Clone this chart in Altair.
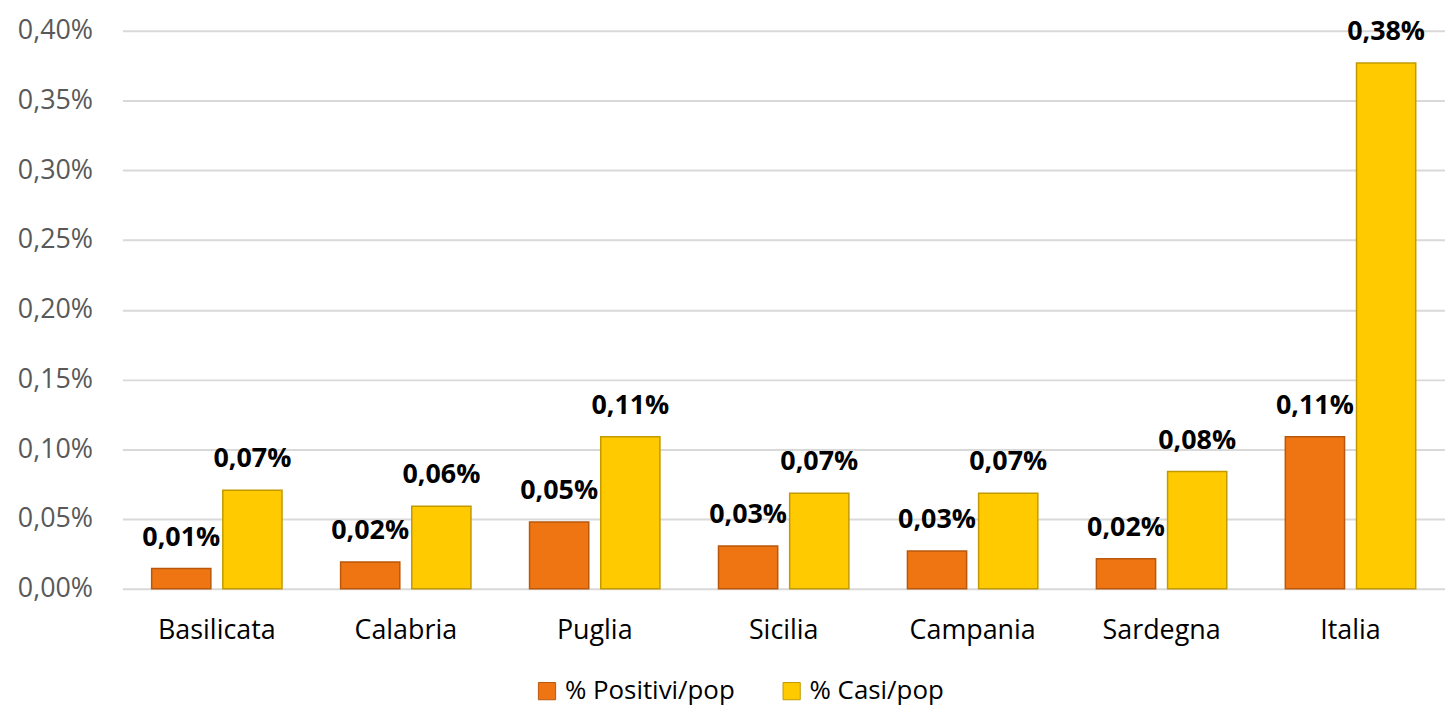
import altair as alt
import pandas as pd

regions = ["Basilicata", "Calabria", "Puglia", "Sicilia", "Campania", "Sardegna", "Italia"]
series = ["% Positivi/pop", "% Casi/pop"]
positivi = [0.000145, 0.000192, 0.000478, 0.000306, 0.000271, 0.000214, 0.00109]
casi = [0.000706, 0.000592, 0.00109, 0.000684, 0.000684, 0.000841, 0.00377]
y_ticks = [0, 0.0005, 0.001, 0.0015, 0.002, 0.0025, 0.003, 0.0035, 0.004]

rows = []
for i, r in enumerate(regions):
    rows.append({"region": r, "series": series[0], "value": positivi[i]})
    rows.append({"region": r, "series": series[1], "value": casi[i]})
df = pd.DataFrame(rows)

FONT = "Open Sans"

x = alt.X("region:N", sort=regions, title=None,
          scale=alt.Scale(paddingInner=0.31, paddingOuter=0.155),
          axis=alt.Axis(labelAngle=0, labelFontSize=27, labelColor="#000000", labelFont=FONT,
                        labelPadding=29, ticks=False, domain=False, grid=False))
xoff = alt.XOffset("series:N", sort=series, scale=alt.Scale(paddingInner=0.168, paddingOuter=0))
y = alt.Y("value:Q", title=None,
          scale=alt.Scale(domain=[0, 0.004], nice=False),
          axis=alt.Axis(values=y_ticks, labelExpr="replace(format(datum.value, '.2%'), '.', ',')",
                        labelFontSize=27, labelColor="#595959", labelFont=FONT, labelPadding=30,
                        ticks=False, domain=False, grid=True, gridColor="#D9D9D9", gridWidth=2))

color = alt.Color("series:N", sort=series,
                  scale=alt.Scale(domain=series, range=["#EF7512", "#FFCA00"]),
                  legend=alt.Legend(title=None, orient="none", legendX=414, legendY=651,
                                    direction="horizontal", labelFontSize=26, labelFont=FONT,
                                    labelLimit=500, labelColor="#000000", symbolType="square",
                                    symbolSize=300, symbolStrokeWidth=1, columnPadding=44,
                                    labelOffset=5))
stroke = alt.Stroke("series:N", sort=series,
                    scale=alt.Scale(domain=series, range=["#B9580C", "#C29A00"]), legend=None)

bars = alt.Chart(df).mark_bar(strokeWidth=1.5).encode(x=x, xOffset=xoff, y=y, color=color, stroke=stroke)

labels = alt.Chart(df).transform_calculate(
    lbl="replace(format(datum.value, '.2%'), '.', ',')"
).mark_text(fontSize=27, fontWeight="bold", font=FONT, color="#000000", baseline="middle", dy=-31).encode(
    x=x, xOffset=xoff, y=y, text="lbl:N")

chart = alt.layer(bars, labels).properties(
    width=1330, height=561,
    autosize=alt.AutoSizeParams(type="none"),
    padding={"left": 115, "top": 21, "right": 0, "bottom": 116},
).configure_view(stroke=None)

chart.save("out.html", embed_options={"renderer": "svg", "actions": False})
